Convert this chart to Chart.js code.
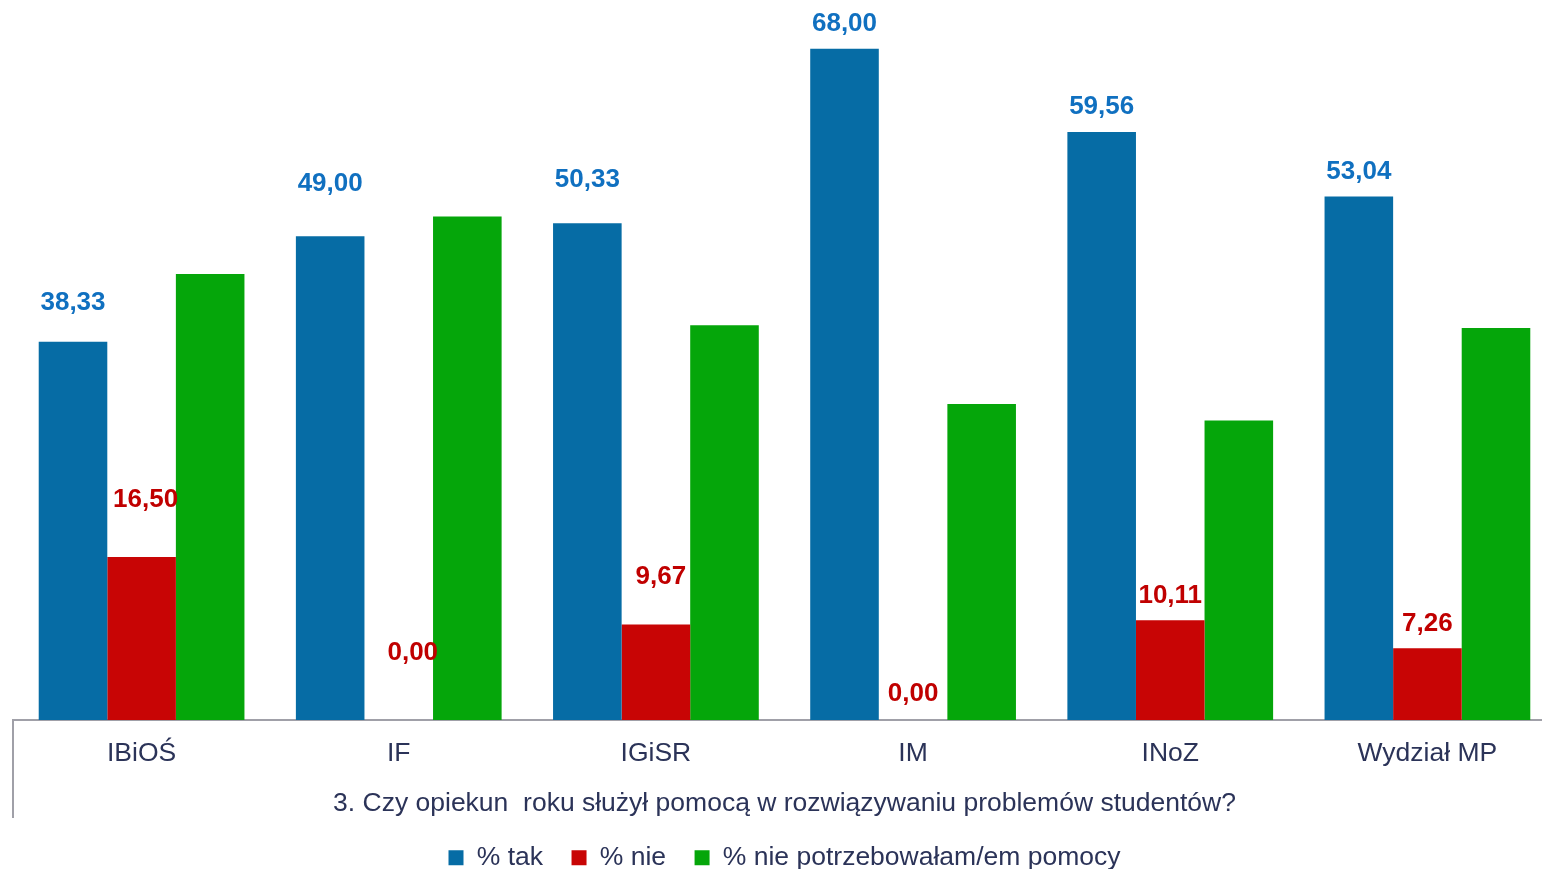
<!DOCTYPE html>
<html>
<head>
<meta charset="utf-8">
<script src="https://cdn.jsdelivr.net/npm/chart.js@4"></script>
<style>
  html, body { margin: 0; padding: 0; background: #fff; overflow: hidden; }
  #chart { display: block; }
</style>
</head>
<body>
<canvas id="chart" width="1578" height="881"></canvas>
<script>
// categories and series values
const categories = ["IBiOŚ", "IF", "IGiSR", "IM", "INoZ", "Wydział MP"]
const seriesNames = ["% tak", "% nie", "% nie potrzebowałam/em pomocy"]
const tak = [38.33, 49.00, 50.33, 68.00, 59.56, 53.04]
const nie = [16.50, 0.00, 9.67, 0.00, 10.11, 7.26]
const niePotrzebowalem = [45.17, 51.00, 40.00, 32.00, 30.33, 39.70]
const axisTitle = "3. Czy opiekun  roku służył pomocą w rozwiązywaniu problemów studentów?"

// labels were dragged by hand in the original, so keep their nudges (px) apart from the data
const takLabelShift = [[0, -39], [0, -52], [0, -43], [0, -25], [0, -25], [0, -25]]
const nieLabelShift = [[4, -57], [14, -67], [5, -48], [0, -26], [0, -24], [0, -25]]

const textColor = "#2b3358"
const fontFamily = "'Liberation Sans', Arial, sans-serif"
const textFont = { family: fontFamily, size: 26.5, lineHeight: "30px" }

// draws the value labels above blue and red bars
const valueLabels = {
    id: "valueLabels",
    afterDatasetsDraw(chart) {
        const ctx = chart.ctx
        const sets = [
            { index: 0, color: "#1070c0", shift: takLabelShift },
            { index: 1, color: "#c00000", shift: nieLabelShift },
        ]
        ctx.save()
        ctx.font = "bold 26px " + fontFamily
        ctx.textAlign = "center"
        ctx.textBaseline = "middle"
        sets.forEach((s) => {
            const meta = chart.getDatasetMeta(s.index)
            const values = chart.data.datasets[s.index].data
            meta.data.forEach((bar, i) => {
                ctx.fillStyle = s.color
                const text = values[i].toFixed(2).replace(".", ",")
                ctx.fillText(text, bar.x + s.shift[i][0], bar.y + s.shift[i][1])
            })
        })
        ctx.restore()
    },
}

// the short vertical border at the left of the category axis
const axisEdge = {
    id: "axisEdge",
    afterDraw(chart) {
        const ctx = chart.ctx
        const x = chart.scales.x
        ctx.save()
        ctx.strokeStyle = "#a0a0a8"
        ctx.lineWidth = 2
        ctx.beginPath()
        ctx.moveTo(chart.chartArea.left, chart.chartArea.bottom)
        ctx.lineTo(chart.chartArea.left, x.bottom + 2)
        ctx.stroke()
        ctx.restore()
    },
}

new Chart(document.getElementById("chart"), {
    type: "bar",
    data: {
        labels: categories,
        datasets: [
            { label: seriesNames[0], data: tak, backgroundColor: "#066ca5" },
            { label: seriesNames[1], data: nie, backgroundColor: "#c80505" },
            { label: seriesNames[2], data: niePotrzebowalem, backgroundColor: "#05a60a" },
        ],
    },
    options: {
        responsive: false,
        animation: false,
        layout: { padding: { left: 13, right: 22, top: 29, bottom: 0 } },
        datasets: { bar: { categoryPercentage: 0.8, barPercentage: 1.0 } },
        scales: {
            y: { display: false, min: 0, max: 70 },
            x: {
                grid: { display: false, drawTicks: false },
                border: { display: true, color: "#a0a0a8", width: 2 },
                ticks: {
                    padding: 19,
                    color: textColor,
                    font: textFont,
                },
                title: {
                    display: true,
                    text: axisTitle,
                    color: textColor,
                    font: textFont,
                    padding: { top: 1, bottom: -3 },
                },
            },
        },
        plugins: {
            tooltip: { enabled: false },
            legend: {
                position: "bottom",
                labels: {
                    boxWidth: 15,
                    boxHeight: 15,
                    padding: 28.5,
                    color: textColor,
                    font: textFont,
                },
            },
        },
    },
    plugins: [valueLabels, axisEdge],
})
</script>
</body>
</html>
